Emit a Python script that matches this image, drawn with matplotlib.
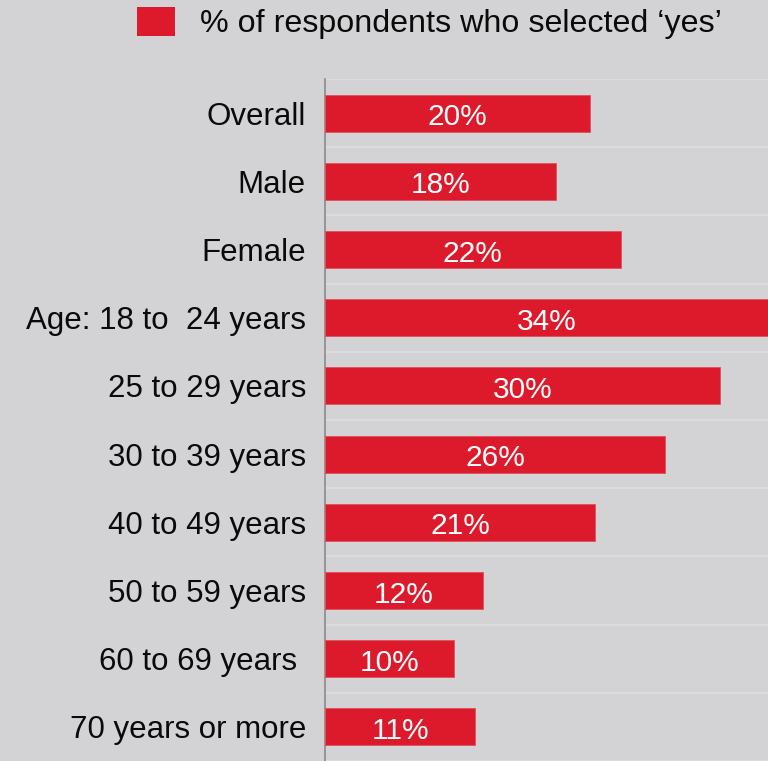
import matplotlib
matplotlib.use("Agg")
import matplotlib.pyplot as plt
from matplotlib.patches import Patch

categories = ["Overall", "Male", "Female", "Age: 18 to  24 years", "25 to 29 years",
              "30 to 39 years", "40 to 49 years", "50 to 59 years", "60 to 69 years ",
              "70 years or more"]
values = [20.15, 17.54, 22.49, 34.0, 30.06, 25.88, 20.56, 11.99, 9.83, 11.43]
labels = ["20%", "18%", "22%", "34%", "30%", "26%", "21%", "12%", "10%", "11%"]
legend_label = "% of respondents who selected \u2018yes\u2019"

BG = "#d3d3d5"
RED = "#dc1a2b"
FONT = ["Liberation Sans", "DejaVu Sans"]

plt.rcParams["font.family"] = FONT
fig = plt.figure(figsize=(7.68, 7.61), dpi=100, facecolor=BG)
ax = fig.add_axes([325/768, 0, 1 - 325/768, 682/761], facecolor=BG)

XMAX = 443 / 13.15
y = list(range(len(categories)))
ax.barh(y, values, height=0.54, color=RED, edgecolor="#e0505c", linewidth=0.6, zorder=3)
for yi, v, lab in zip(y, values, labels):
    ax.text(min(v, XMAX) / 2, yi + 0.06, lab, ha="center", va="center",
            color="white", fontsize=21.5, zorder=4)

ax.set_xlim(0, XMAX)
ax.set_ylim(9.46, -0.5)
ax.set_yticks(y)
ax.set_yticklabels(categories, fontsize=22.5, color="#0a0a0a")
ax.tick_params(axis="y", length=0, pad=13.7)
ax.set_xticks([])
ax.set_yticks([i + 0.5 for i in range(-1, len(categories))], minor=True)
ax.tick_params(axis="y", which="minor", length=0)
ax.grid(axis="y", which="minor", color="#dedee0", linewidth=1.2, zorder=0)
for s in ["top", "right", "bottom"]:
    ax.spines[s].set_visible(False)
ax.spines["left"].set_color("#8a8a8a")
ax.spines["left"].set_linewidth(1.2)

handle = Patch(facecolor=RED, edgecolor="none")
fig.legend([handle], [legend_label], loc="center left",
           bbox_to_anchor=(124/768, 1 - 23/761), frameon=False,
           fontsize=23.2, handlelength=1.19, handleheight=1.02,
           handletextpad=0.78, borderaxespad=0, labelcolor="#0a0a0a")

fig.savefig("out.png", dpi=100, facecolor=BG)
